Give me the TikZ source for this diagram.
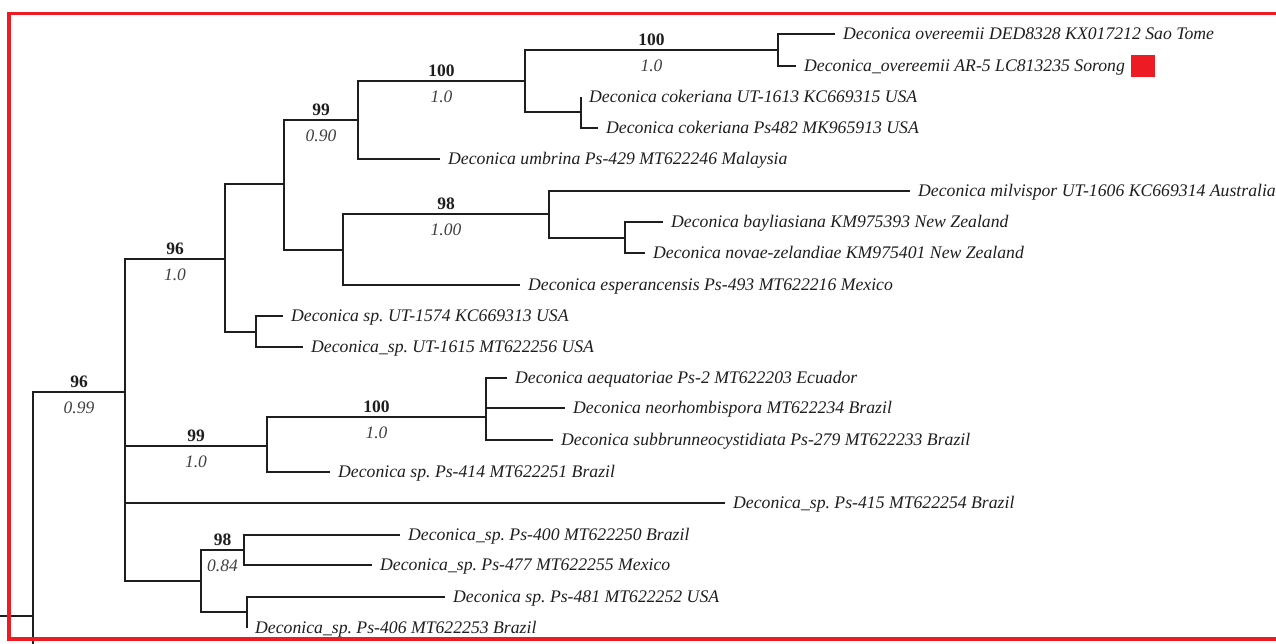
\documentclass[tikz,border=0pt]{standalone}
\usepackage{fontspec}
\setmainfont{Liberation Serif}
\usetikzlibrary{positioning,calc}
\definecolor{markRed}{RGB}{237,28,36}
\definecolor{inkGray}{RGB}{30,30,30}
\frenchspacing

\begin{document}
\begin{tikzpicture}[x=1pt, y=-1pt]
\tikzstyle{branch} = [draw, inkGray, line width=1.8pt]
\tikzstyle{leaf} = [anchor=west, inner xsep=8pt, inner ysep=0pt, text height=12pt, text depth=2pt, text=inkGray, font=\fontsize{17.7}{20}\selectfont\itshape]
\tikzstyle{boot} = [pos=0.75, anchor=south, inner sep=0pt, yshift=3pt, text=inkGray, font=\fontsize{17.5}{20}\selectfont\bfseries]
\tikzstyle{post} = [pos=0.75, anchor=north, inner sep=0pt, yshift=-9pt, text=inkGray!85, font=\fontsize{17.5}{20}\selectfont\itshape]

\useasboundingbox (0,0) rectangle (1276,643);
\clip (0,0) rectangle (1276,643);

% Internal nodes of the tree
\coordinate (stub) at (0,616);
\coordinate (rootLow) at (33,660);
\coordinate (root) at (33,616);
\coordinate (cladeMain) at (125,392);
\coordinate (cladeUpper) at (225,259);
\coordinate (cladeOld) at (284,184);
\coordinate (cladeUmbrina) at (358,120);
\coordinate (cladeCokeriana) at (525,81);
\coordinate (cladeOvereemii) at (778,50);
\coordinate (pairCokeriana) at (581,112);
\coordinate (cladeEsper) at (343,250);
\coordinate (cladeMilvispor) at (549,214);
\coordinate (pairNZ) at (625,238);
\coordinate (pairUT) at (256,332);
\coordinate (cladeBrazil) at (267,446);
\coordinate (tripleBrazil) at (486,417);
\coordinate (cladeLower) at (201,581);
\coordinate (pairPsA) at (244,550);
\coordinate (pairPsB) at (247,612);

% Leaves
\node [leaf] (leafSaoTome) at (835,34) {Deconica overeemii DED8328 KX017212 Sao Tome};
\node [leaf] (leafSorong) at (796,66) {Deconica\_overeemii AR-5 LC813235 Sorong};
\node [leaf] (leafCokerA) at (581,97) {Deconica cokeriana UT-1613 KC669315 USA};
\node [leaf] (leafCokerB) at (598,128) {Deconica cokeriana Ps482 MK965913 USA};
\node [leaf] (leafUmbrina) at (440,159) {Deconica umbrina Ps-429 MT622246 Malaysia};
\node [leaf] (leafMilvispor) at (910,191) {Deconica milvispor UT-1606 KC669314 Australia};
\node [leaf] (leafBayliasiana) at (663,222) {Deconica bayliasiana KM975393 New Zealand};
\node [leaf] (leafNovae) at (645,253) {Deconica novae-zelandiae KM975401 New Zealand};
\node [leaf] (leafEsper) at (520,285) {Deconica esperancensis Ps-493 MT622216 Mexico};
\node [leaf] (leafUTa) at (283,316) {Deconica sp. UT-1574 KC669313 USA};
\node [leaf] (leafUTb) at (303,347) {Deconica\_sp. UT-1615 MT622256 USA};
\node [leaf] (leafAequat) at (507,378) {Deconica aequatoriae Ps-2 MT622203 Ecuador};
\node [leaf] (leafNeorhomb) at (565,408) {Deconica neorhombispora MT622234 Brazil};
\node [leaf] (leafSubbrun) at (553,440) {Deconica subbrunneocystidiata Ps-279 MT622233 Brazil};
\node [leaf] (leafPsFour) at (330,472) {Deconica sp. Ps-414 MT622251 Brazil};
\node [leaf] (leafPsFive) at (725,503) {Deconica\_sp. Ps-415 MT622254 Brazil};
\node [leaf] (leafPsZero) at (400,535) {Deconica\_sp. Ps-400 MT622250 Brazil};
\node [leaf] (leafPsSeven) at (372,565) {Deconica\_sp. Ps-477 MT622255 Mexico};
\node [leaf] (leafPsOne) at (445,597) {Deconica sp. Ps-481 MT622252 USA};
\node [leaf] (leafPsSix) at (247,628) {Deconica\_sp. Ps-406 MT622253 Brazil};

% Red marker for the new sequence
\node [fill=markRed, minimum width=24pt, minimum height=22pt, inner sep=0pt, right=-2pt of leafSorong] (sorongMark) {};

% Branches with support values
\draw [branch] (stub) -- (root) -- (rootLow);
\draw [branch] (root) |- (cladeMain) node[boot] {96} node[post] {0.99};
\draw [branch] (cladeMain) |- (cladeUpper) node[boot] {96} node[post] {1.0};
\draw [branch] (cladeMain) |- (cladeBrazil) node[boot] {99} node[post] {1.0};
\draw [branch] (cladeMain) |- (leafPsFive.west);
\draw [branch] (cladeMain) |- (cladeLower);
\draw [branch] (cladeUpper) |- (cladeOld);
\draw [branch] (cladeUpper) |- (pairUT);
\draw [branch] (cladeOld) |- (cladeUmbrina) node[boot] {99} node[post] {0.90};
\draw [branch] (cladeOld) |- (cladeEsper);
\draw [branch] (cladeUmbrina) |- (cladeCokeriana) node[boot] {100} node[post] {1.0};
\draw [branch] (cladeUmbrina) |- (leafUmbrina.west);
\draw [branch] (cladeCokeriana) |- (cladeOvereemii) node[boot] {100} node[post] {1.0};
\draw [branch] (cladeCokeriana) |- (pairCokeriana);
\draw [branch] (cladeOvereemii) |- (leafSaoTome.west);
\draw [branch] (cladeOvereemii) |- (leafSorong.west);
\draw [branch] (pairCokeriana) |- (leafCokerA.west);
\draw [branch] (pairCokeriana) |- (leafCokerB.west);
\draw [branch] (cladeEsper) |- (cladeMilvispor) node[boot] {98} node[post] {1.00};
\draw [branch] (cladeEsper) |- (leafEsper.west);
\draw [branch] (cladeMilvispor) |- (leafMilvispor.west);
\draw [branch] (cladeMilvispor) |- (pairNZ);
\draw [branch] (pairNZ) |- (leafBayliasiana.west);
\draw [branch] (pairNZ) |- (leafNovae.west);
\draw [branch] (pairUT) |- (leafUTa.west);
\draw [branch] (pairUT) |- (leafUTb.west);
\draw [branch] (cladeBrazil) |- (tripleBrazil) node[boot] {100} node[post] {1.0};
\draw [branch] (cladeBrazil) |- (leafPsFour.west);
\draw [branch] (tripleBrazil) |- (leafAequat.west);
\draw [branch] (tripleBrazil) |- (leafNeorhomb.west);
\draw [branch] (tripleBrazil) |- (leafSubbrun.west);
\draw [branch] (cladeLower) |- (pairPsA) node[boot] {98} node[post] {0.84};
\draw [branch] (cladeLower) |- (pairPsB);
\draw [branch] (pairPsA) |- (leafPsZero.west);
\draw [branch] (pairPsA) |- (leafPsSeven.west);
\draw [branch] (pairPsB) |- (leafPsOne.west);
\draw [branch] (pairPsB) |- (leafPsSix.west);

% Red frame
\draw [markRed, line width=3.5pt] (9,13.5) rectangle (1300,639);

\end{tikzpicture}
\end{document}
